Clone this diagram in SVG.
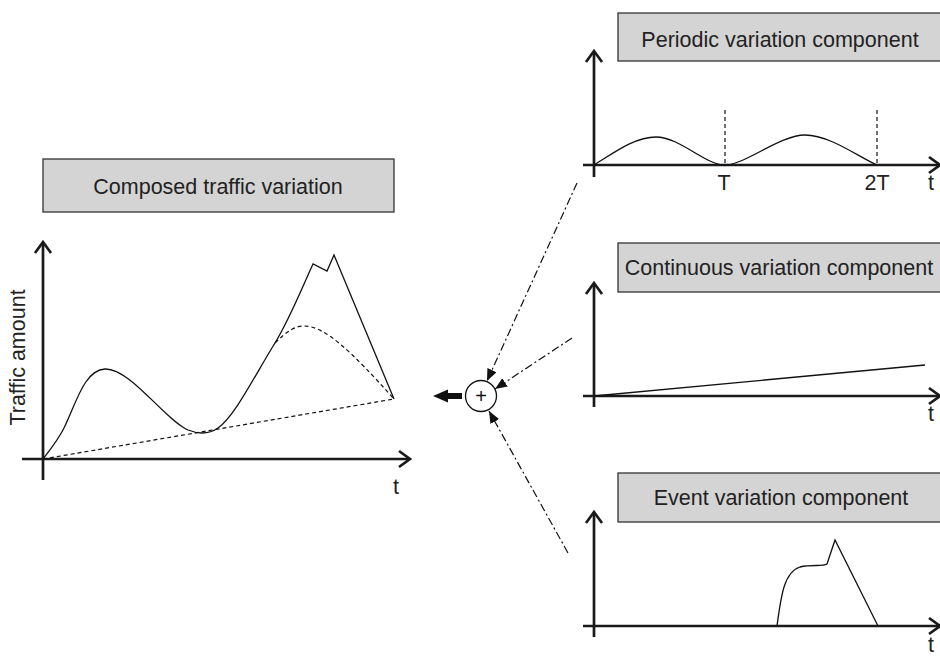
<svg xmlns="http://www.w3.org/2000/svg" width="940" height="656" viewBox="0 0 940 656">
  <style>
    .lbl { font-family: "Liberation Sans", Arial, sans-serif; font-size: 21.5px; fill: #222; }
    .mid { text-anchor: middle; }
    .box { fill: #d4d4d4; stroke: #333; stroke-width: 1.3; }
    .axis { fill: none; stroke: #1a1a1a; stroke-width: 2.7; }
    .head { fill: none; stroke: #1a1a1a; stroke-width: 2.7; stroke-linejoin: miter; }
    .curve { fill: none; stroke: #111; stroke-width: 1.3; stroke-linejoin: miter; }
    .dash { fill: none; stroke: #111; stroke-width: 1.2; stroke-dasharray: 4 3; }
    .link { fill: none; stroke: #111; stroke-width: 1.2; stroke-dasharray: 8 3 2 3; }
  </style>
  <defs>
    <marker id="tri" viewBox="0 0 12 10" refX="12" refY="5" markerWidth="12" markerHeight="10" markerUnits="userSpaceOnUse" orient="auto">
      <path d="M0,0 L12,5 L0,10 Z" fill="#111"/>
    </marker>
  </defs>

  <rect width="940" height="656" fill="#fff"/>

  <!-- composed traffic chart -->
  <g id="composed">
    <rect class="box" x="43" y="159" width="351" height="53"/>
    <text class="lbl mid" x="218" y="194">Composed traffic variation</text>
    <path class="axis" d="M43,244 V480 M22,459 H409"/>
    <path class="head" d="M35,253 L43,242 L51,253 M399,451 L410,459 L399,467"/>
    <text class="lbl mid" transform="translate(25,357.5) rotate(-90)">Traffic amount</text>
    <text class="lbl mid" x="396" y="494">t</text>
    <path class="curve" d="M43,459 C50,450 58,440 64,428 C76,404 84,370 105,369 C130,368 165,420 188,430 C198,434 208,435 218,428 C235,416 255,375 275,343 C290,318 301,290 313,264 L327,271 L334,255 L394,399"/>
    <path class="dash" d="M43,459 L394,399"/>
    <path class="dash" d="M275,343 C287,331 295,326 304,326 C325,326 352,352 394,399"/>
  </g>

  <!-- summing junction -->
  <g id="sum">
    <circle cx="481" cy="396" r="15.5" fill="#fff" stroke="#111" stroke-width="1.3"/>
    <text x="481" y="403" text-anchor="middle" font-family="Liberation Sans, Arial, sans-serif" font-size="20" fill="#111">+</text>
    <path d="M462,393 H448 V389.5 L433,396 L448,402.5 V399 H462 Z" fill="#111"/>
  </g>

  <!-- periodic component -->
  <g id="periodic">
    <rect class="box" x="618" y="13" width="326" height="48"/>
    <text class="lbl mid" x="780" y="47">Periodic variation component</text>
    <path class="axis" d="M594,53 V177 M583,165 H938"/>
    <path class="head" d="M586,62 L594,51 L602,62 M929,157 L940,165 L929,173"/>
    <path class="dash" d="M725,110 V165 M877,110 V165"/>
    <path class="curve" d="M594,165 C615,152 635,137 656,137 C680,137 705,165 725,165 C745,165 780,135 805,135 C830,135 860,158 877,165"/>
    <text class="lbl mid" x="724" y="190">T</text>
    <text class="lbl mid" x="877" y="190">2T</text>
    <text class="lbl mid" x="931" y="190">t</text>
  </g>

  <!-- continuous component -->
  <g id="continuous">
    <rect class="box" x="618" y="243" width="326" height="49"/>
    <text class="lbl mid" x="779" y="275">Continuous variation component</text>
    <path class="axis" d="M594,285 V407 M583,396 H938"/>
    <path class="head" d="M586,294 L594,283 L602,294 M929,388 L940,396 L929,404"/>
    <path class="curve" d="M594,396 L925,365"/>
    <text class="lbl mid" x="931" y="421">t</text>
  </g>

  <!-- event component -->
  <g id="event">
    <rect class="box" x="618" y="473" width="326" height="49"/>
    <text class="lbl mid" x="781" y="505">Event variation component</text>
    <path class="axis" d="M594,514 V637 M583,626 H938"/>
    <path class="head" d="M586,523 L594,512 L602,523 M929,618 L940,626 L929,634"/>
    <path class="curve" d="M777,626 C781,596 784,572 800,567 C812,564 822,567 827,564 L835,540 L878,626"/>
    <text class="lbl mid" x="931" y="652">t</text>
  </g>

  <!-- connectors into the summing junction -->
  <g id="connectors">
    <path class="link" d="M577,183 L487,381" marker-end="url(#tri)"/>
    <path class="link" d="M572,338 L495,389" marker-end="url(#tri)"/>
    <path class="link" d="M568,553 L489,411" marker-end="url(#tri)"/>
  </g>
</svg>
